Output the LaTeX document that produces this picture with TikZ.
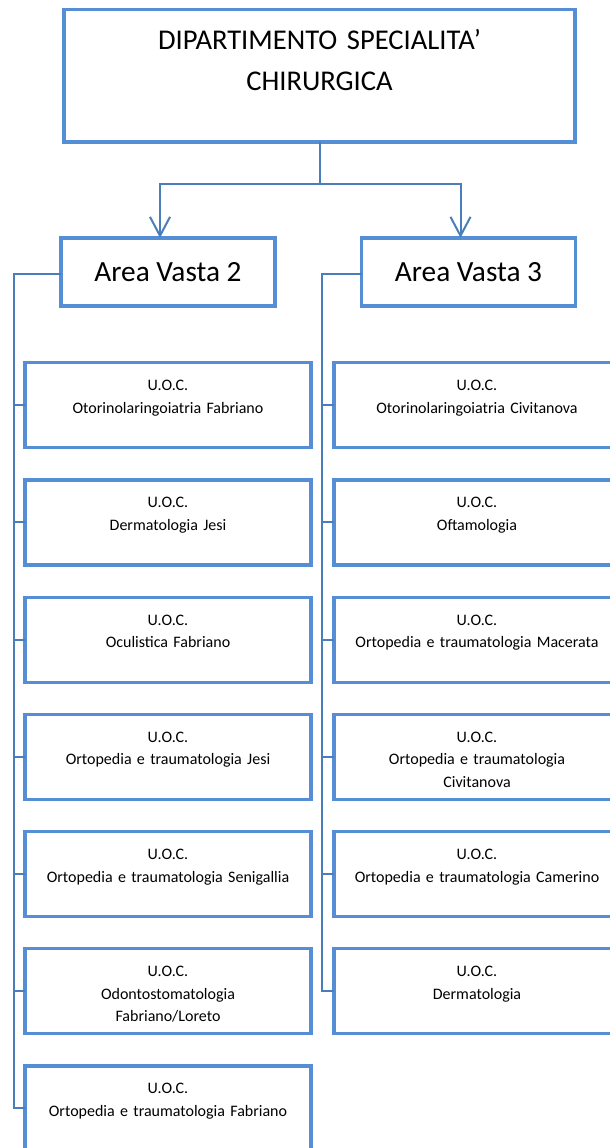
\documentclass[tikz,border=0pt]{standalone}
\usepackage{fontspec}
\setmainfont{Carlito}
\usetikzlibrary{arrows.meta,positioning}
\definecolor{boxblue}{HTML}{558ED5}
\definecolor{lineblue}{HTML}{4A7EBB}

\begin{document}
\begin{tikzpicture}[x=1pt, y=1pt, >={Straight Barb[length=19pt,width=20pt]}, every node/.style={outer sep=0pt, inner sep=0pt, draw=boxblue, line width=3.2pt}, head node/.style={text width=511pt, align=center, text height=40pt, text depth=92.7pt, font=\fontsize{28.6}{41}\selectfont}, area node/.style={minimum width=214pt, minimum height=68pt, font=\fontsize{29.3}{35}\selectfont}, unit node/.style={text width=286pt, align=center, text height=28pt, text depth=57pt, font=\fontsize{16}{22.5}\selectfont, node distance=32.2pt}, link/.style={draw=lineblue, line width=2pt}]
\useasboundingbox (0,0) rectangle (610,-1148);

\node [head node, anchor=north] (dept) at (319.5,-9.3) {DIPARTIMENTO SPECIALITA’\\CHIRURGICA};

\node [area node] (av2) at (168,-272) {Area Vasta 2};
\node [area node] (av3) at (468.5,-272) {Area Vasta 3};

% Area Vasta 2
\node [unit node, anchor=north] (l1) at (168,-362.7) {U.O.C.\\Otorinolaringoiatria Fabriano};
\node [unit node, below=of l1] (l2) {U.O.C.\\Dermatologia Jesi};
\node [unit node, below=of l2] (l3) {U.O.C.\\Oculistica Fabriano};
\node [unit node, below=of l3] (l4) {U.O.C.\\Ortopedia e traumatologia Jesi};
\node [unit node, below=of l4] (l5) {U.O.C.\\Ortopedia e traumatologia Senigallia};
\node [unit node, below=of l5] (l6) {U.O.C.\\Odontostomatologia\\Fabriano/Loreto};
\node [unit node, below=of l6] (l7) {U.O.C.\\Ortopedia e traumatologia Fabriano};

% Area Vasta 3
\node [unit node, anchor=north] (r1) at (477,-362.7) {U.O.C.\\Otorinolaringoiatria Civitanova};
\node [unit node, below=of r1] (r2) {U.O.C.\\Oftamologia};
\node [unit node, below=of r2] (r3) {U.O.C.\\Ortopedia e traumatologia Macerata};
\node [unit node, below=of r3] (r4) {U.O.C.\\Ortopedia e traumatologia\\Civitanova};
\node [unit node, below=of r4] (r5) {U.O.C.\\Ortopedia e traumatologia Camerino};
\node [unit node, below=of r5] (r6) {U.O.C.\\Dermatologia};

\draw [link] (dept.south) -- ++(0,-42) coordinate (fork);
\draw [link, ->] (fork) -| ([xshift=-8pt]av2.north);
\draw [link, ->] (fork) -| ([xshift=-8pt]av3.north);

\draw [link] ([yshift=-2pt]av2.west) -- ++(-47pt,0) |- (l7.west);
\foreach \i in {1,...,6} \draw [link] (l\i.west) -- ++(-11pt,0);
\draw [link] ([yshift=-2pt]av3.west) -- ++(-40pt,0) |- (r6.west);
\foreach \i in {1,...,5} \draw [link] (r\i.west) -- ++(-12pt,0);
\end{tikzpicture}
\end{document}
